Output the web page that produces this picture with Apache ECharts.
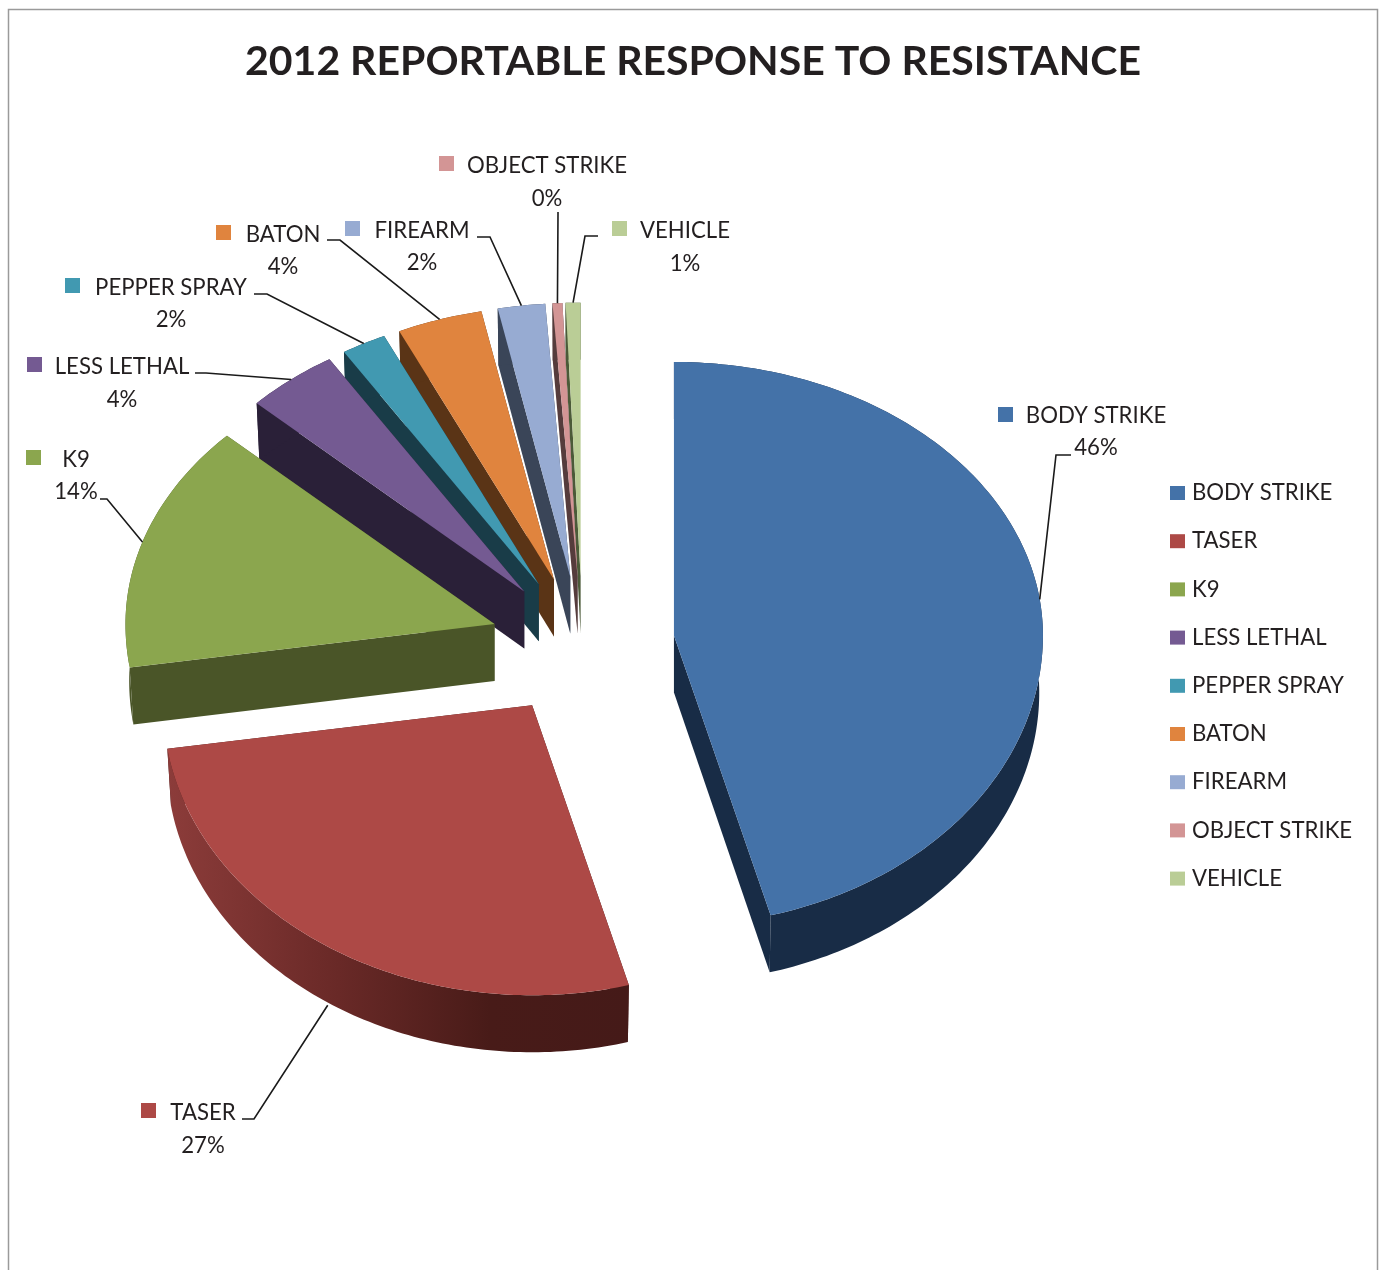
<!DOCTYPE html>
<html><head><meta charset="utf-8">
<style>html,body{margin:0;padding:0;background:#fff}#c{width:1382px;height:1270px}</style>
<script src="https://cdn.jsdelivr.net/npm/echarts@6/dist/echarts.min.js"></script>
</head><body><div id="c"></div>
<script>
const categories = ['BODY STRIKE','TASER','K9','LESS LETHAL','PEPPER SPRAY','BATON','FIREARM','OBJECT STRIKE','VEHICLE'];
const shares = [45.78, 26.82, 14.49, 4.06, 1.97, 3.73, 2.07, 0.43, 0.65];
const titleText = '2012 REPORTABLE RESPONSE TO RESISTANCE';

// styling
const topColors  = ['#4472a8','#ad4946','#8ba64e','#745a92','#4199b1','#e0843e','#97abd2','#d39595','#bacd96'];
const wallColors = ['#182c46','#451a18','#4a5528','#2a2038','#193c48','#5a3416','#3a4558','#553c3c','#4b5a38'];
const FONT = 'Lato, "Open Sans", sans-serif';
const TEXT = '#231f20';
const pie = {cx:582.5, cy:644.5, rx:369, ryBack:273.5, ryFront:290, depth:57, explode:0.25, baseScale:0.99};
// label placement: key square, centre of the name, percent line, leader start and elbow
const labelBox = [
  {key:[998,407],  name:[1096,416], pct:448,  lead:[1071,455], elbow:[1056,455]},
  {key:[141,1103], name:[203,1113], pct:1146, lead:[242,1119], elbow:[254,1119]},
  {key:[26,450],   name:[76,460],   pct:492,  lead:[100,499],  elbow:[107,499]},
  {key:[27,357],   name:[122,367],  pct:400,  lead:[195,373],  elbow:[206,373]},
  {key:[65,278],   name:[171,288],  pct:320,  lead:[254,294],  elbow:[267,294]},
  {key:[216,225],  name:[283,235],  pct:267,  lead:[327,240],  elbow:[340,240]},
  {key:[345,221],  name:[422,231],  pct:263,  lead:[477,237],  elbow:[490,237]},
  {key:[439,156],  name:[547,166],  pct:199,  lead:[558,212],  elbow:[558,214]},
  {key:[612,221],  name:[685,231],  pct:264,  lead:[598,236],  elbow:[585,236]}
];

const total = shares.reduce((a,b)=>a+b,0);
let acc = 0;
const slices = shares.map(v => {
  const a0 = acc/total*2*Math.PI; acc += v;
  return {a0, a1: acc/total*2*Math.PI};
});
function offs(t){
  const c = Math.cos(t);
  return [pie.rx*Math.sin(t), -(c>=0?pie.ryBack:pie.ryFront)*c];
}
function polyShape(points){ return {points}; }

function renderSlice(i, api){
  const s = slices[i];
  const mid = (s.a0+s.a1)/2;
  const d = offs(mid);
  const ax = pie.cx + pie.explode*d[0], ay = pie.cy + pie.explode*d[1];
  const N = Math.max(4, Math.ceil((s.a1-s.a0)*60));
  const arc = [], arcLow = [];
  for(let k=0;k<=N;k++){
    const t = s.a0+(s.a1-s.a0)*k/N, o = offs(t);
    arc.push([ax+o[0], ay+o[1]]);
    arcLow.push([ax+o[0]*pie.baseScale, ay+o[1]+pie.depth]);
  }
  const low = [ax, ay+pie.depth];
  const wallFill = i===1 ? {type:'linear',x:0,y:0,x2:1,y2:0,colorStops:[
      {offset:0,color:'#8c3c3a'},{offset:0.35,color:'#6b2a28'},{offset:0.7,color:'#481b18'},{offset:1,color:'#451a18'}]}
    : wallColors[i];
  const flat = wallColors[i];
  const kids = [];
  // cut faces
  kids.push({type:'polygon',silent:true,shape:polyShape([[ax,ay],arc[N],arcLow[N],low]),style:{fill:flat}});
  kids.push({type:'polygon',silent:true,shape:polyShape([[ax,ay],arc[0],arcLow[0],low]),style:{fill:flat}});
  // outer wall
  kids.push({type:'polygon',silent:true,shape:polyShape(arc.concat(arcLow.slice().reverse())),style:{fill:wallFill}});
  // top face
  kids.push({type:'polygon',shape:polyShape([[ax,ay]].concat(arc)),style:{fill:topColors[i]}});
  // leader: ends on the slice edge at mid-angle, on the wall foot when the edge faces the viewer
  const L = labelBox[i];
  const front = Math.cos(mid) < -0.2;
  const end = [ax+d[0]-(front?3:0), ay+d[1]+(front?pie.depth:0)];
  kids.push({type:'polyline',silent:true,shape:{points:[L.lead,L.elbow,end]},style:{stroke:'#1a1a1a',lineWidth:1.6,fill:null}});
  // key + texts
  kids.push({type:'rect',silent:true,shape:{x:L.key[0],y:L.key[1],width:15,height:15},style:{fill:topColors[i]}});
  kids.push({type:'text',silent:true,style:{text:categories[i],x:L.name[0],y:L.name[1],align:'center',verticalAlign:'middle',font:'22.2px '+FONT,fill:TEXT}});
  kids.push({type:'text',silent:true,style:{text:Math.round(api.value(0)/total*100)+'%',x:L.name[0],y:L.pct,align:'center',verticalAlign:'middle',font:'22.2px '+FONT,fill:TEXT}});
  return {type:'group',children:kids};
}

const chart = echarts.init(document.getElementById('c'),null,{renderer:'canvas'});
chart.setOption({
  animation:false,
  backgroundColor:'#ffffff',
  title:{text:titleText,left:688,top:36,textAlign:'center',textStyle:{fontFamily:FONT,fontWeight:'bold',fontSize:41,color:TEXT}},
  legend:{orient:'vertical',left:1170,top:481,padding:0,itemWidth:15,itemHeight:14,itemGap:24.2,icon:'rect',selectedMode:false,
    data:categories,textStyle:{fontFamily:FONT,fontSize:22.2,lineHeight:24,color:TEXT,padding:[0,0,0,2]}},
  graphic:[{type:'rect',silent:true,z:-1,shape:{x:8.5,y:9.5,width:1369,height:1300},style:{fill:'#fff',stroke:'#9a9a9a',lineWidth:1.5}}],
  series:categories.map((name,i)=>({
    type:'custom',name,coordinateSystem:'none',z:20-i,
    itemStyle:{color:topColors[i]},
    data:[[shares[i]]],
    renderItem:(p,api)=>renderSlice(i,api)
  }))
});
</script></body></html>
